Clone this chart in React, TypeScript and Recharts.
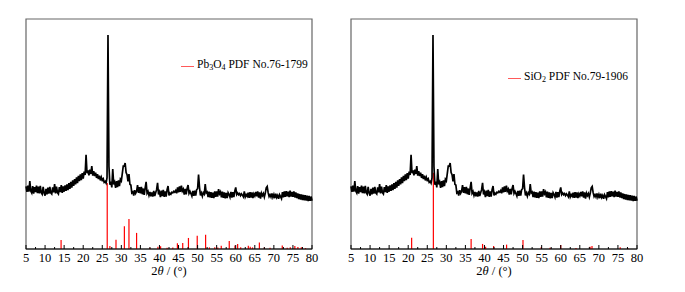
import React from "react";
import { LineChart, Line, XAxis, YAxis, ReferenceLine, ReferenceArea, Label } from "recharts";

// ── Measured pattern (same sample in both panels), 0.25° steps from 5° to 80° ──
const X_START = 5;
const X_STEP = 0.25;
const XRD_COUNTS = [
  // 5.00 – 9.75
  27.2, 24.8, 27.6, 24.9, 29.5, 25.2, 24.4, 27.3, 24.1, 26.9, 24.7, 27.6, 24.3, 27.1, 24.2, 27.4, 24.5, 23.8, 27.0, 24.3,
  // 10.00 – 14.75
  23.2, 26.1, 23.8, 26.7, 24.1, 27.0, 24.4, 23.9, 26.8, 24.6, 28.2, 24.2, 27.1, 24.5, 23.9, 26.9, 24.7, 27.8, 24.4, 27.2,
  // 15.00 – 19.75
  24.9, 27.7, 25.3, 28.1, 25.6, 28.6, 26.1, 29.2, 26.7, 29.8, 27.4, 30.4, 28.1, 31.1, 28.6, 31.8, 29.5, 32.4, 29.9, 33.0,
  // 20.00 – 24.75
  30.6, 33.6, 32.2, 41.0, 32.9, 34.2, 32.0, 34.5, 32.6, 36.0, 31.9, 33.8, 31.7, 33.2, 30.9, 32.5, 30.4, 31.9, 29.8, 31.2,
  // 25.00 – 29.75
  29.9, 30.5, 29.0, 29.4, 28.6, 31.0, 93.0, 36.0, 27.9, 29.3, 26.8, 34.8, 28.1, 29.1, 26.6, 29.5, 26.9, 29.8, 27.3, 30.3,
  // 30.00 – 34.75
  29.6, 32.8, 36.0, 36.0, 37.4, 33.2, 32.3, 29.4, 32.6, 28.1, 27.8, 24.4, 24.8, 23.2, 25.6, 24.2, 25.1, 27.8, 24.4, 26.9,
  // 35.00 – 39.75
  24.2, 27.0, 23.8, 26.3, 23.5, 26.6, 29.2, 24.2, 25.0, 23.3, 24.8, 22.9, 24.6, 22.8, 25.3, 23.0, 24.5, 25.8, 28.8, 23.7,
  // 40.00 – 44.75
  24.8, 22.6, 25.4, 23.0, 25.7, 22.7, 25.0, 22.8, 25.8, 27.4, 23.3, 24.3, 23.8, 24.7, 24.4, 25.1, 24.7, 25.4, 24.2, 26.8,
  // 45.00 – 49.75
  24.6, 27.2, 24.8, 27.6, 25.2, 26.0, 23.7, 26.1, 23.8, 26.3, 27.8, 24.2, 25.1, 24.1, 23.0, 25.3, 23.1, 25.4, 23.2, 25.8,
  // 50.00 – 54.75
  26.2, 32.4, 26.8, 23.3, 24.4, 22.9, 24.5, 23.9, 28.2, 24.4, 24.8, 22.6, 24.9, 22.4, 24.7, 22.2, 24.5, 22.1, 25.1, 22.7,
  // 55.00 – 59.75
  25.0, 22.8, 26.0, 24.0, 24.8, 22.5, 24.9, 22.2, 24.6, 22.0, 24.4, 22.1, 24.5, 23.7, 22.5, 24.8, 22.3, 24.7, 22.6, 25.1,
  // 60.00 – 64.75
  26.8, 23.7, 24.4, 23.6, 24.1, 23.2, 24.0, 23.4, 22.7, 25.1, 22.6, 23.6, 22.9, 24.5, 22.2, 24.7, 22.3, 24.6, 22.1, 24.0,
  // 65.00 – 69.75
  23.1, 24.8, 22.9, 25.0, 22.3, 24.6, 21.9, 24.3, 23.2, 24.1, 22.6, 24.3, 26.6, 27.2, 24.5, 22.8, 23.6, 22.6, 24.2, 22.5,
  // 70.00 – 74.75
  23.7, 22.1, 24.0, 22.4, 23.3, 21.8, 23.6, 22.8, 21.9, 24.7, 22.5, 25.0, 22.7, 25.2, 22.9, 24.9, 22.6, 25.4, 22.8, 24.8,
  // 75.00 – 80.00
  22.7, 25.1, 22.4, 24.6, 22.1, 24.2, 21.7, 23.9, 21.5, 23.7, 21.3, 23.5, 21.1, 23.4, 21.0, 23.2, 20.8, 23.1, 20.9, 22.8,
  21.0,
];

// ── Reference card sticks ──
const PB3O4_POS = [
  14.2, 26.3, 27.0, 28.6, 30.8, 32.0, 34.0, 37.5, 39.6, 40.3, 42.0, 43.5, 44.7, 46.1, 47.6, 49.9, 52.1,
  53.1, 54.5, 55.3, 56.2, 58.3, 59.8, 60.5, 61.3, 63.3, 63.8, 64.4, 66.2, 67.5, 69.0, 72.2, 73.5, 74.3,
  75.5, 76.3, 77.2, 78.3,
];
const PB3O4_INT = [
  3.9, 28.7, 1.3, 4.0, 9.9, 13.0, 7.0, 0.5, 1.0, 1.2, 0.5, 0.6, 2.5, 2.6, 4.8, 5.8, 6.2,
  0.7, 0.8, 0.6, 1.4, 3.5, 1.5, 2.2, 0.8, 1.4, 1.0, 0.7, 2.8, 0.6, 0.5, 1.5, 0.5, 0.8,
  1.3, 0.9, 0.8, 0.4,
];

const SIO2_POS = [20.9, 26.6, 36.5, 39.5, 40.3, 42.4, 45.8, 50.1, 54.9, 57.2, 60.0, 64.0, 67.7, 68.2, 75.6, 77.6];
const SIO2_INT = [4.9, 33.2, 4.35, 2.2, 1.0, 1.3, 1.9, 3.9, 0.9, 0.5, 1.7, 0.4, 1.0, 1.3, 0.8, 0.4];

const X_TICKS = [
  5, 7.5, 10, 12.5, 15, 17.5, 20, 22.5, 25, 27.5, 30, 32.5, 35, 37.5, 40, 42.5, 45, 47.5, 50, 52.5,
  55, 57.5, 60, 62.5, 65, 67.5, 70, 72.5, 75, 77.5, 80,
];

const FONT = "'Liberation Serif', 'Times New Roman', serif";

const pattern = XRD_COUNTS.map((v, i) => ({ x: X_START + X_STEP * i, y: v }));

// ticks drawn inward, labels only on multiples of 5
function XTick(props: any) {
  const { x, y, payload } = props;
  const major = payload.value % 5 === 0;
  return (
    <g>
      <line x1={x} x2={x} y1={y} y2={y - (major ? 4 : 2)} stroke="#000" strokeWidth={1} />
      {major && (
        <text
          x={x}
          y={y + 12.5}
          textAnchor="middle"
          style={{ fontFamily: FONT, fontSize: 12.5 }}
          fill="#000"
        >
          {payload.value}
        </text>
      )}
    </g>
  );
}

function AxisTitle(props: any) {
  const vb = props.viewBox || { x: 0, y: 0, width: 0 };
  return (
    <text
      x={vb.x + vb.width / 2}
      y={vb.y + 26}
      textAnchor="middle"
      style={{ fontFamily: FONT, fontSize: 12.5 }}
      fill="#000"
    >
      2<tspan fontStyle="italic">θ</tspan> / (°)
    </text>
  );
}

interface PanelProps {
  pos: number[];
  ints: number[];
  left: number;
}

function Panel({ pos, ints, left }: PanelProps) {
  return (
    <div style={{ position: "absolute", left, top: 0 }}>
      <LineChart
        width={340}
        height={292}
        data={pattern}
        margin={{ top: 19, right: 28, bottom: 13, left: 26 }}
      >
        <XAxis
          dataKey="x"
          type="number"
          domain={[5, 80]}
          ticks={X_TICKS}
          interval={0}
          tickSize={0}
          tickMargin={0}
          tick={<XTick />}
          height={30}
          axisLine={{ stroke: "#000", strokeWidth: 1 }}
        >
          <Label content={<AxisTitle />} />
        </XAxis>
        <YAxis
          type="number"
          domain={[0, 100]}
          tick={false}
          tickLine={false}
          width={0}
          axisLine={{ stroke: "#000", strokeWidth: 1 }}
        />
        {/* frame: top and right edges */}
        <ReferenceArea x1={5} x2={80} y1={0} y2={100} fill="none" stroke="#666" strokeWidth={1.2} />
        {pos.map((p, i) => (
          <ReferenceLine
            key={p}
            segment={[
              { x: p, y: 0 },
              { x: p, y: ints[i] },
            ]}
            stroke="#ff0000"
            strokeWidth={1.2}
          />
        ))}
        <Line
          type="linear"
          dataKey="y"
          stroke="#000"
          strokeWidth={1.7}
          dot={false}
          isAnimationActive={false}
        />
      </LineChart>
    </div>
  );
}

function LegendTag({ left, top, children }: { left: number; top: number; children: React.ReactNode }) {
  return (
    <div
      style={{
        position: "absolute",
        left,
        top,
        display: "flex",
        alignItems: "center",
        fontFamily: FONT,
        fontSize: 11.5,
        lineHeight: "12px",
        color: "#000",
        whiteSpace: "nowrap",
      }}
    >
      <span style={{ display: "inline-block", width: 13, height: 1, background: "#ff5a5a", marginRight: 3 }} />
      <span>{children}</span>
    </div>
  );
}

const subStyle: React.CSSProperties = { fontSize: "0.7em", verticalAlign: "-0.25em" };

export default function App() {
  return (
    <div style={{ position: "absolute", left: 0, top: 0, width: 685, height: 292, background: "#fff" }}>
      <Panel pos={PB3O4_POS} ints={PB3O4_INT} left={0} />
      <Panel pos={SIO2_POS} ints={SIO2_INT} left={325} />
      <LegendTag left={181} top={58}>
        Pb<sub style={subStyle}>3</sub>O<sub style={subStyle}>4</sub> PDF No.76-1799
      </LegendTag>
      <LegendTag left={508} top={70}>
        SiO<sub style={subStyle}>2</sub> PDF No.79-1906
      </LegendTag>
    </div>
  );
}
